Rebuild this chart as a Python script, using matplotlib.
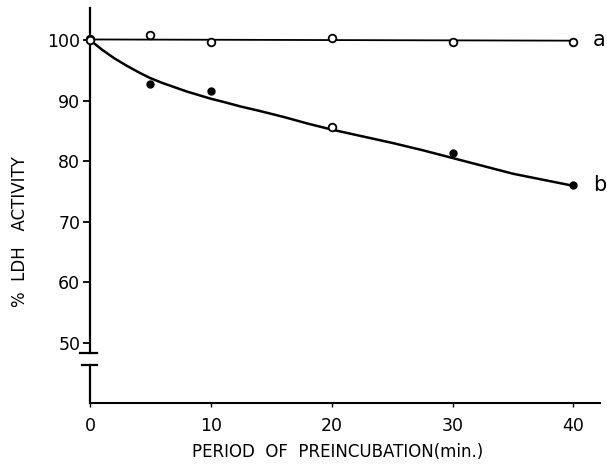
import matplotlib
matplotlib.use("Agg")
import matplotlib.pyplot as plt

# time of preincubation (min)
t = [0, 5, 10, 20, 30, 40]

# curve a: open circles
act_a = [100.2, 100.8, 99.6, 100.3, 99.6, 99.7]
fit_a_x = [0, 40]
fit_a_y = [100.1, 99.9]

# curve b: points (open at 0 and 20, filled elsewhere)
b_open_x = [0, 20]
b_open_y = [100.0, 85.7]
b_fill_x = [5, 10, 30, 40]
b_fill_y = [92.8, 91.5, 81.3, 76.0]

# hand drawn curve b, read along its length
fit_b_x = [0, 0.5, 1, 1.5, 2, 2.5, 3, 4, 5, 6, 7, 8, 9, 10, 11, 12.5, 14, 16,
           18, 20, 22.5, 25, 27.5, 30, 32.5, 35, 37.5, 40]
fit_b_y = [100, 99.2, 98.4, 97.7, 97.0, 96.4, 95.8, 94.7, 93.7, 92.9, 92.2, 91.5,
           90.9, 90.3, 89.8, 89.0, 88.3, 87.3, 86.2, 85.2, 84.1, 83.0, 81.8,
           80.5, 79.2, 77.9, 76.9, 75.9]

xticks = [0, 10, 20, 30, 40]
yticks = [50, 60, 70, 80, 90, 100]

plt.rcParams['font.family'] = 'DejaVu Sans'

fig = plt.figure(figsize=(6.07, 4.70), dpi=100)
ax = fig.add_axes([90 / 607, 1 - 403 / 470, 510 / 607, 395 / 470])

ax.plot(fit_a_x, fit_a_y, color='black', lw=1.3, zorder=2)
ax.plot(fit_b_x, fit_b_y, color='black', lw=1.8, zorder=2, solid_joinstyle='round')
ax.plot(t, act_a, 'o', ms=5.5, mfc='white', mec='black', mew=1.3, zorder=3, clip_on=False)
ax.plot(b_open_x, b_open_y, 'o', ms=5.5, mfc='white', mec='black', mew=1.3, zorder=3, clip_on=False)
ax.plot(b_fill_x, b_fill_y, 'o', ms=5, mfc='black', mec='black', zorder=3)

ax.text(41.6, 100.0, 'a', fontsize=15, va='center', ha='left')
ax.text(41.6, 76.0, 'b', fontsize=15, va='center', ha='left')

ax.set_xlim(0, 42.2)
ax.set_ylim(40, 105.3)
ax.set_xticks(xticks)
ax.set_yticks(yticks)
ax.tick_params(axis='y', direction='out', length=5, width=1.3, labelsize=12.5, pad=2)
ax.tick_params(axis='x', direction='out', length=3, width=1.0, labelsize=12.5, pad=7)

for s in ['top', 'right', 'left']:
    ax.spines[s].set_visible(False)
ax.spines['bottom'].set_linewidth(1.5)

# broken y axis drawn by hand
ax.plot([0, 0], [48.2, 105.3], color='black', lw=1.6, clip_on=False)
ax.plot([0, 0], [40, 46.2], color='black', lw=1.6, clip_on=False)
ax.plot([-0.8, 0.55], [48.2, 48.2], color='black', lw=1.6, clip_on=False)
ax.plot([-0.7, 0.6], [46.2, 46.2], color='black', lw=1.6, clip_on=False)

fig.text(20 / 607, 1 - 232 / 470, '%  LDH   ACTIVITY', rotation=90, fontsize=12,
         ha='center', va='center')
fig.text(338 / 607, 1 - 452 / 470, 'PERIOD  OF  PREINCUBATION(min.)', fontsize=12,
         ha='center', va='center')

fig.savefig('out.png', dpi=100)
